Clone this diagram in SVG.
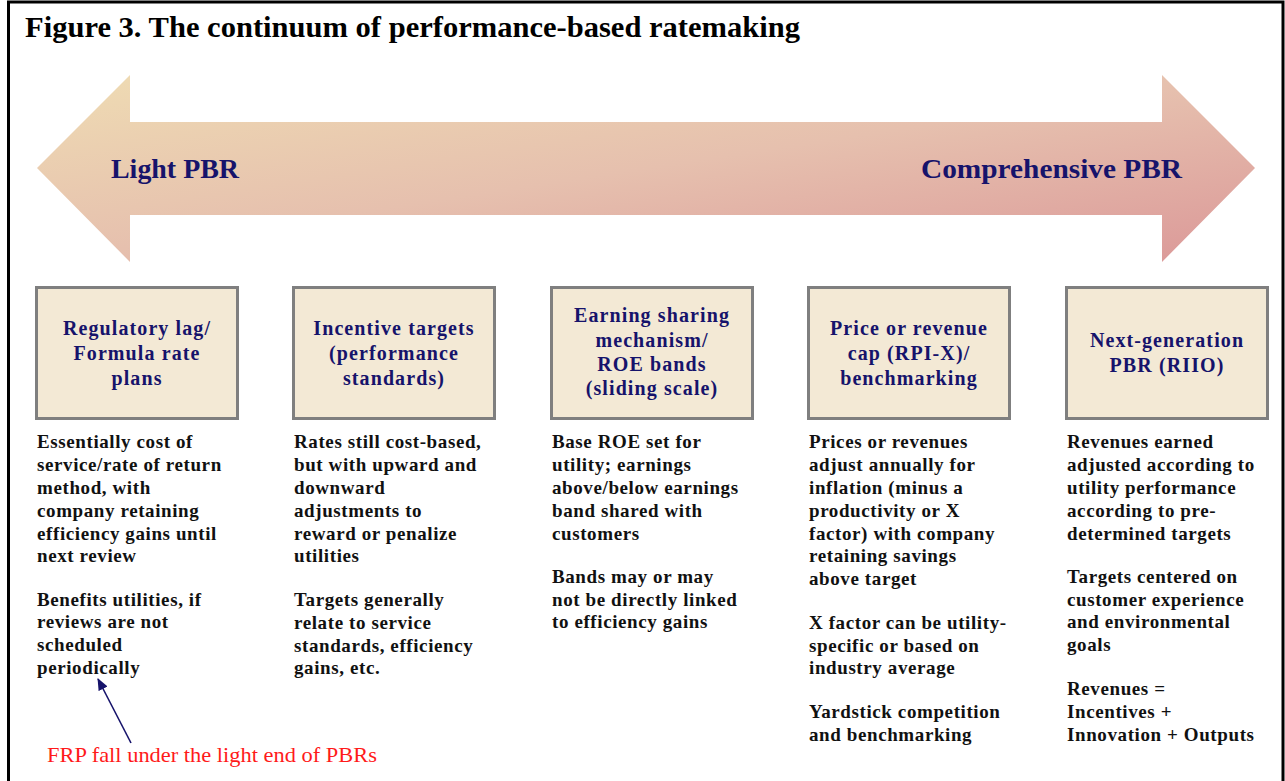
<svg xmlns="http://www.w3.org/2000/svg" width="1285" height="781" viewBox="0 0 1285 781">
  <defs>
    <linearGradient id="bandFill" x1="0" y1="0" x2="1" y2="1">
      <stop offset="0" stop-color="#efdcb3"/>
      <stop offset="0.5" stop-color="#e6c0ae"/>
      <stop offset="1" stop-color="#db9898"/>
    </linearGradient>
    <marker id="tip" viewBox="0 0 12 10" refX="11" refY="5" markerWidth="12" markerHeight="10" markerUnits="userSpaceOnUse" orient="auto">
      <path d="M0,0 L12,5 L0,10 z" fill="#16136b"/>
    </marker>
    <style>
      .title { font-family: "Liberation Serif", serif; font-weight: bold; font-size: 29px; fill: #000; }
      .band { font-family: "Liberation Serif", serif; font-weight: bold; font-size: 27px; fill: #16136b; }
      .box rect { fill: #f3e9d5; stroke: #7f7f7f; stroke-width: 3; }
      .head { font-family: "Liberation Serif", serif; font-weight: bold; font-size: 20px; fill: #16136b; text-anchor: middle; letter-spacing: 1.1px; }
      .body { font-family: "Liberation Serif", serif; font-weight: bold; font-size: 19px; fill: #111; letter-spacing: 0.6px; }
      .note { font-family: "Liberation Serif", serif; font-size: 21px; fill: #ff1a1a; }
      .conn { stroke: #16136b; stroke-width: 1.6; fill: none; }
    </style>
  </defs>

  <rect width="1285" height="781" fill="#fff"/>
  <!-- outer frame -->
  <path d="M8.5,790 L8.5,2 L1283,2 L1283,790" fill="none" stroke="#000" stroke-width="3"/>

  <text class="title" x="25" y="37" textLength="775" lengthAdjust="spacingAndGlyphs">Figure 3. The continuum of performance-based ratemaking</text>

  <!-- double-headed continuum band -->
  <g id="continuum">
    <polygon points="37,168 130,75 130,122 1162,122 1162,75 1255,168 1162,262 1162,215 130,215 130,262" fill="url(#bandFill)"/>
    <text class="band" x="111" y="178" textLength="128" lengthAdjust="spacingAndGlyphs">Light PBR</text>
    <text class="band" x="921" y="178" textLength="261" lengthAdjust="spacingAndGlyphs">Comprehensive PBR</text>
  </g>

  <!-- stage boxes -->
  <g id="node-formula" class="box">
    <rect x="36.5" y="287.5" width="201" height="131"/>
    <text class="head" x="137" y="335">Regulatory lag/</text>
    <text class="head" x="137" y="360">Formula rate</text>
    <text class="head" x="137" y="385">plans</text>
  </g>
  <g id="node-incentive" class="box">
    <rect x="293.5" y="287.5" width="201" height="131"/>
    <text class="head" x="394" y="335">Incentive targets</text>
    <text class="head" x="394" y="360">(performance</text>
    <text class="head" x="394" y="385">standards)</text>
  </g>
  <g id="node-earnings" class="box">
    <rect x="551.5" y="287.5" width="201" height="131"/>
    <text class="head" x="652" y="322">Earning sharing</text>
    <text class="head" x="652" y="347">mechanism/</text>
    <text class="head" x="652" y="371">ROE bands</text>
    <text class="head" x="652" y="395">(sliding scale)</text>
  </g>
  <g id="node-pricecap" class="box">
    <rect x="808.5" y="287.5" width="201" height="131"/>
    <text class="head" x="909" y="335">Price or revenue</text>
    <text class="head" x="909" y="360">cap (RPI-X)/</text>
    <text class="head" x="909" y="385">benchmarking</text>
  </g>
  <g id="node-riio" class="box">
    <rect x="1066.5" y="287.5" width="201" height="131"/>
    <text class="head" x="1167" y="347">Next-generation</text>
    <text class="head" x="1167" y="372">PBR (RIIO)</text>
  </g>

  <!-- descriptions under each stage -->
  <g id="desc-formula" class="body">
    <text x="37" y="448">Essentially cost of</text>
    <text x="37" y="471">service/rate of return</text>
    <text x="37" y="494">method, with</text>
    <text x="37" y="517">company retaining</text>
    <text x="37" y="540">efficiency gains until</text>
    <text x="37" y="562">next review</text>
    <text x="37" y="606">Benefits utilities, if</text>
    <text x="37" y="628">reviews are not</text>
    <text x="37" y="651">scheduled</text>
    <text x="37" y="674">periodically</text>
  </g>
  <g id="desc-incentive" class="body">
    <text x="294" y="448">Rates still cost-based,</text>
    <text x="294" y="471">but with upward and</text>
    <text x="294" y="494">downward</text>
    <text x="294" y="517">adjustments to</text>
    <text x="294" y="540">reward or penalize</text>
    <text x="294" y="562">utilities</text>
    <text x="294" y="606">Targets generally</text>
    <text x="294" y="629">relate to service</text>
    <text x="294" y="652">standards, efficiency</text>
    <text x="294" y="674">gains, etc.</text>
  </g>
  <g id="desc-earnings" class="body">
    <text x="552" y="448">Base ROE set for</text>
    <text x="552" y="471">utility; earnings</text>
    <text x="552" y="494">above/below earnings</text>
    <text x="552" y="517">band shared with</text>
    <text x="552" y="540">customers</text>
    <text x="552" y="583">Bands may or may</text>
    <text x="552" y="606">not be directly linked</text>
    <text x="552" y="628">to efficiency gains</text>
  </g>
  <g id="desc-pricecap" class="body">
    <text x="809" y="448">Prices or revenues</text>
    <text x="809" y="471">adjust annually for</text>
    <text x="809" y="494">inflation (minus a</text>
    <text x="809" y="517">productivity or X</text>
    <text x="809" y="540">factor) with company</text>
    <text x="809" y="562">retaining savings</text>
    <text x="809" y="585">above target</text>
    <text x="809" y="629">X factor can be utility-</text>
    <text x="809" y="652">specific or based on</text>
    <text x="809" y="674">industry average</text>
    <text x="809" y="718">Yardstick competition</text>
    <text x="809" y="741">and benchmarking</text>
  </g>
  <g id="desc-riio" class="body">
    <text x="1067" y="448">Revenues earned</text>
    <text x="1067" y="471">adjusted according to</text>
    <text x="1067" y="494">utility performance</text>
    <text x="1067" y="517">according to pre-</text>
    <text x="1067" y="540">determined targets</text>
    <text x="1067" y="583">Targets centered on</text>
    <text x="1067" y="606">customer experience</text>
    <text x="1067" y="628">and environmental</text>
    <text x="1067" y="651">goals</text>
    <text x="1067" y="695">Revenues =</text>
    <text x="1067" y="718">Incentives +</text>
    <text x="1067" y="741">Innovation + Outputs</text>
  </g>

  <!-- callout pointing at the light end -->
  <g id="connectors">
    <line class="conn" x1="131" y1="743" x2="98" y2="679" marker-end="url(#tip)"/>
  </g>
  <g id="note-frp">
    <text class="note" x="47" y="762" textLength="330" lengthAdjust="spacingAndGlyphs">FRP fall under the light end of PBRs</text>
  </g>
</svg>
